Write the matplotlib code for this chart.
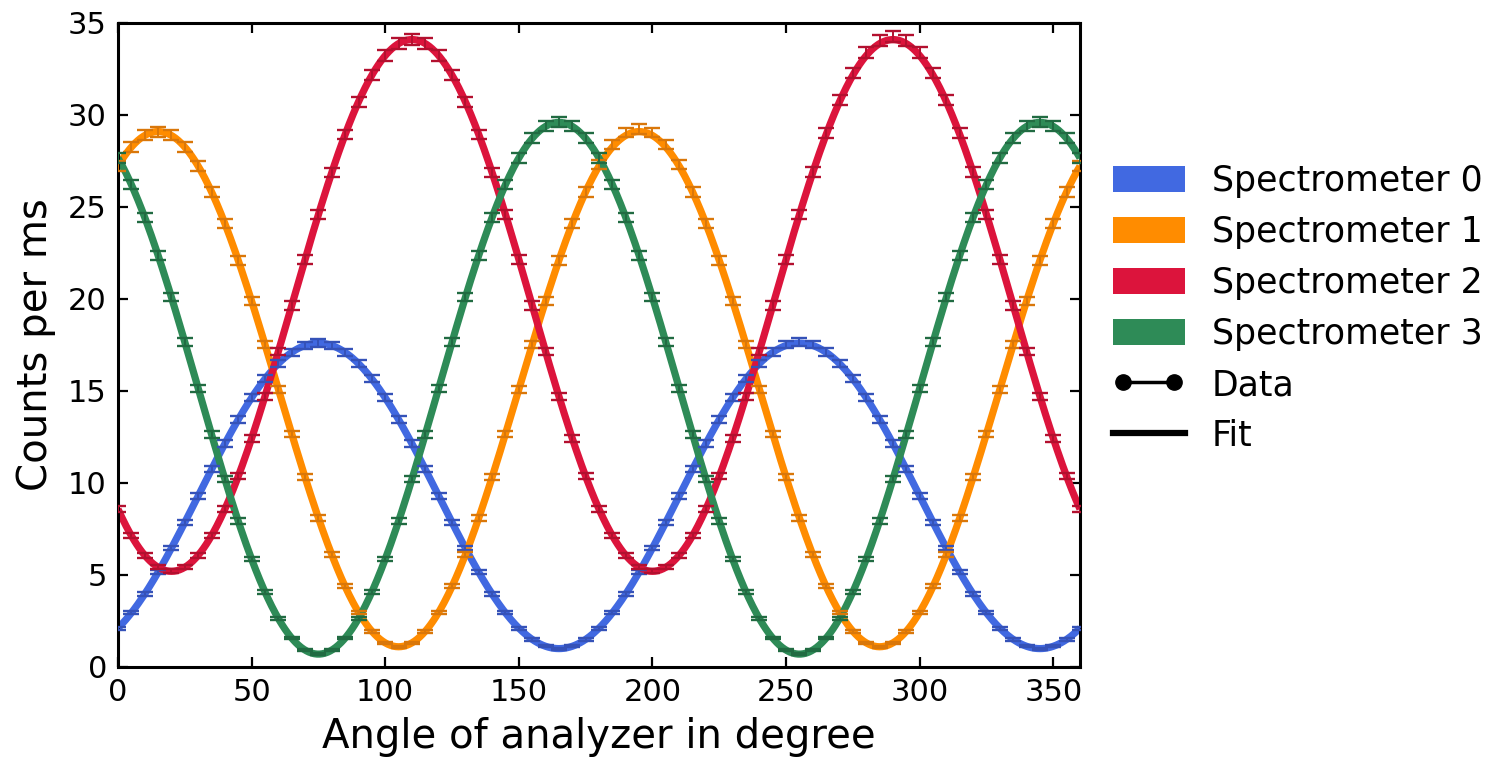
import numpy as np
import matplotlib
matplotlib.use("Agg")
import matplotlib.pyplot as plt
from matplotlib.patches import Patch
from matplotlib.lines import Line2D
from matplotlib.legend_handler import HandlerLine2D

# Analyzer angles (degree), one measurement every 5 degrees
angles = list(range(0, 361, 5))

# Measured count rates (counts per ms) for each spectrometer
spec0 = [2.11, 2.94, 3.97, 5.15, 6.46, 7.86, 9.30, 10.74, 12.14, 13.45, 14.64, 15.66, 16.49,
         17.10, 17.47, 17.60, 17.47, 17.10, 16.49, 15.66, 14.64, 13.45, 12.14, 10.74, 9.30,
         7.86, 6.46, 5.15, 3.97, 2.94, 2.11, 1.50, 1.13, 1.00, 1.13, 1.50,
         2.11, 2.94, 3.97, 5.15, 6.46, 7.86, 9.30, 10.74, 12.14, 13.45, 14.64, 15.66, 16.49,
         17.12, 17.52, 17.66, 17.52, 17.12, 16.49, 15.66, 14.64, 13.45, 12.14, 10.74, 9.30,
         7.86, 6.46, 5.15, 3.97, 2.94, 2.11, 1.50, 1.13, 1.00, 1.13, 1.50, 2.11]
spec1 = [27.22, 28.26, 28.89, 29.10, 28.89, 28.26, 27.22, 25.82, 24.10, 22.10, 19.89, 17.53,
         15.10, 12.67, 10.31, 8.10, 6.10, 4.38, 2.98, 1.94, 1.31, 1.10, 1.31, 1.94, 2.98,
         4.38, 6.10, 8.10, 10.31, 12.67, 15.10, 17.53, 19.89, 22.10, 24.10, 25.82,
         27.30, 28.40, 29.05, 29.25, 29.05, 28.40, 27.30, 25.82, 24.10, 22.10, 19.89, 17.53,
         15.10, 12.67, 10.31, 8.10, 6.10, 4.38, 2.98, 1.94, 1.31, 1.10, 1.31, 1.94, 2.98,
         4.38, 6.10, 8.10, 10.31, 12.67, 15.10, 17.53, 19.89, 22.10, 24.10, 25.82, 27.22]
spec2 = [8.58, 7.14, 6.07, 5.42, 5.20, 5.42, 6.07, 7.14, 8.58, 10.36, 12.43, 14.71, 17.14,
         19.65, 22.16, 24.59, 26.88, 28.94, 30.72, 32.16, 33.23, 33.88, 34.10, 33.88, 33.23,
         32.16, 30.72, 28.94, 26.88, 24.59, 22.16, 19.65, 17.14, 14.71, 12.43, 10.36,
         8.58, 7.14, 6.07, 5.42, 5.20, 5.42, 6.07, 7.14, 8.58, 10.36, 12.43, 14.71, 17.14,
         19.65, 22.16, 24.59, 26.90, 29.00, 30.80, 32.28, 33.38, 34.05, 34.28, 34.05, 33.38,
         32.28, 30.80, 29.00, 26.90, 24.59, 22.16, 19.65, 17.14, 14.71, 12.43, 10.36, 8.58]
spec3 = [27.66, 26.22, 24.44, 22.38, 20.09, 17.66, 15.15, 12.64, 10.21, 7.93, 5.86, 4.08,
         2.64, 1.57, 0.92, 0.70, 0.92, 1.57, 2.64, 4.08, 5.86, 7.93, 10.21, 12.64, 15.15,
         17.66, 20.09, 22.38, 24.44, 26.22, 27.66, 28.73, 29.38, 29.60, 29.38, 28.73,
         27.66, 26.22, 24.44, 22.38, 20.09, 17.66, 15.15, 12.64, 10.21, 7.93, 5.86, 4.08,
         2.64, 1.57, 0.92, 0.70, 0.92, 1.57, 2.64, 4.08, 5.86, 7.93, 10.21, 12.64, 15.15,
         17.66, 20.09, 22.38, 24.44, 26.22, 27.66, 28.73, 29.38, 29.60, 29.38, 28.73, 27.66]

# Fit parameters of y = offset + amplitude * cos(2 * (angle - phase))
fit_offset = [9.3, 15.1, 19.65, 15.15]
fit_amplitude = [8.3, 14.0, 14.45, 14.45]
fit_phase = [75.0, 15.0, 110.0, 165.0]

labels = ["Spectrometer 0", "Spectrometer 1", "Spectrometer 2", "Spectrometer 3"]
colors = ["#4169E1", "#FF8C00", "#DC143C", "#2E8B57"]
cap_colors = ["#3552B8", "#D9770A", "#B3102F", "#216B42"]

series = [spec0, spec1, spec2, spec3]

fig = plt.figure(figsize=(14.95, 7.59), dpi=100)
ax = fig.add_axes([118 / 1495, 92 / 759, 962 / 1495, 644 / 759])

x = np.array(angles, dtype=float)
xf = np.linspace(0, 360, 721)
for y, off, amp, ph, c, cc in zip(series, fit_offset, fit_amplitude, fit_phase, colors, cap_colors):
    y = np.array(y)
    yf = off + amp * np.cos(np.deg2rad(2 * (xf - ph)))
    ax.plot(xf, yf, color=c, lw=5.2, zorder=2, solid_capstyle="butt")
    ax.errorbar(x, y, yerr=0.05 * np.sqrt(y), fmt="none", ecolor=cc,
                elinewidth=1.4, capsize=6.0, capthick=1.7, zorder=3)

ax.set_xlim(0, 360)
ax.set_ylim(0, 35)
ax.set_xticks(range(0, 351, 50))
ax.set_yticks(range(0, 36, 5))
ax.tick_params(direction="in", length=7, width=1.6, top=True, right=True,
               labelsize=22, pad=8)
for s in ax.spines.values():
    s.set_linewidth(2.2)
ax.set_xlabel("Angle of analyzer in degree", fontsize=29, labelpad=7)
ax.set_ylabel("Counts per ms", fontsize=29, labelpad=9)

handles = [Patch(facecolor=c, edgecolor="none") for c in colors]
data_handle = Line2D([], [], color="black", lw=2.5, marker="o", markersize=11)
fit_handle = Line2D([], [], color="black", lw=4.5)
handles += [data_handle, fit_handle]
leg_labels = labels + ["Data", "Fit"]
fig.legend(handles, leg_labels, loc="upper left", bbox_to_anchor=(1113 / 1495, 1 - 164 / 759),
           frameon=False, fontsize=25, handlelength=2.07, handleheight=0.8,
           handletextpad=0.78, labelspacing=0.49, borderpad=0, borderaxespad=0,
           handler_map={data_handle: HandlerLine2D(numpoints=2)})

fig.savefig("out.png", dpi=100)
